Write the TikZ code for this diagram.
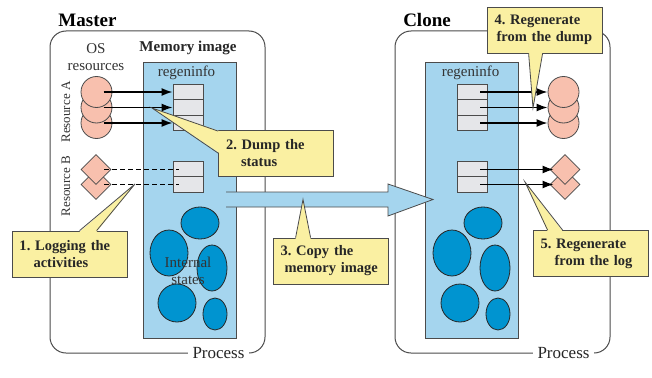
\documentclass[tikz,border=0pt]{standalone}
\usepackage{fontspec}
\setmainfont{Liberation Serif}
\usetikzlibrary{arrows.meta,shapes.geometric}
\definecolor{memblue}{RGB}{165,213,238}
\definecolor{blobblue}{RGB}{0,148,208}
\definecolor{salmon}{RGB}{248,192,174}
\definecolor{noteyellow}{RGB}{250,240,162}
\definecolor{cellgray}{RGB}{229,230,233}
\definecolor{edgegray}{RGB}{75,75,75}

\begin{document}
\begin{tikzpicture}[x=1pt,y=-1pt,>={Latex[length=11pt,width=8pt]},
  procbox/.style={draw=edgegray,line width=1pt,rounded corners=16pt,fill=white,minimum width=215pt,minimum height=322pt},
  proclabel/.style={fill=white,inner xsep=5pt,inner ysep=1pt,font=\fontsize{17}{19}\selectfont,text=black!85},
  headtxt/.style={font=\fontsize{19}{21}\selectfont\bfseries,inner sep=0},
  memcol/.style={draw=edgegray,fill=memblue,line width=0.8pt,minimum width=93pt,minimum height=276pt,inner sep=0},
  cell/.style={draw=edgegray,fill=cellgray,line width=0.8pt,minimum width=30pt,minimum height=15.5pt,inner sep=0},
  res/.style={circle,draw=edgegray,fill=salmon,line width=0.8pt,minimum size=31pt,inner sep=0},
  resb/.style={diamond,draw=edgegray,fill=salmon,line width=0.8pt,minimum size=30pt,inner sep=0},
  blob/.style={ellipse,draw=black!85,fill=blobblue,line width=0.8pt,inner sep=0},
  arr/.style={->,line width=1.6pt},
  dashline/.style={line width=0.9pt,dash pattern=on 5pt off 3pt},
  txt/.style={font=\fontsize{15}{17}\selectfont,text=black!80,inner sep=0},
  note/.style={draw=edgegray,fill=noteyellow,line width=0.8pt,minimum height=46pt,text width=100pt,inner xsep=7.5pt,align=left,font=\fontsize{14.5}{17}\selectfont\bfseries,text=black!85},
  notefill/.style={fill=noteyellow},
  noteline/.style={draw=edgegray,line width=0.8pt}]
\useasboundingbox (0,0) rectangle (652,377);

% process boxes
\node[procbox] (master) at (157.5,192) {};
\node[procbox] (clone) at (502.5,192) {};
\node[proclabel] (mproc) at (218.5,353) {Process};
\node[proclabel] (cproc) at (563.5,353) {Process};
\node[headtxt] (mtitle) at (87.5,20) {Master};
\node[headtxt] (ctitle) at (427,20) {Clone};

% memory images
\node[memcol] (mmem) at (189.5,200) {};
\node[memcol] (cmem) at (472,200) {};
\node[txt,font=\fontsize{15}{17}\selectfont\bfseries,text=black!85] (memlbl) at (188,48) {Memory image};
\node[txt,align=center] (osres) at (96,57) {OS\\resources};
\node[txt] (mregen) at (186.5,73) {regeninfo};
\node[txt] (cregen) at (470.5,73) {regeninfo};
\node[txt,font=\fontsize{13}{15}\selectfont,rotate=90] (resa) at (66,112) {Resource A};
\node[txt,font=\fontsize{13}{15}\selectfont,rotate=90] (resb) at (66,186) {Resource B};

% regeninfo cells
\foreach \n/\y in {1/92,2/107.5,3/123}{
  \node[cell] (mA\n) at (188,\y) {};
  \node[cell] (cA\n) at (472,\y) {};
}
\foreach \n/\y in {1/169.5,2/184.5}{
  \node[cell] (mB\n) at (188,\y) {};
  \node[cell] (cB\n) at (472,\y) {};
}

% internal states
\foreach \x/\y/\w/\h [count=\i] in {200/223/38/32,169/253/38/46,212/268/30/46,177/303/38/38,215/314/24/32}{
  \node[blob,minimum width=\w pt,minimum height=\h pt] (mb\i) at (\x,\y) {};
  \node[blob,minimum width=\w pt,minimum height=\h pt] (cb\i) at (\x+283,\y) {};
}
\node[txt,align=center,text=black!80] (istates) at (188,271) {Internal\\states};

% OS resources
\foreach \n/\y in {3/123,2/107.5,1/92}{
  \node[res] (mR\n) at (96.5,\y) {};
  \node[res] (cR\n) at (563.5,\y) {};
}
\foreach \n/\y in {2/184.5,1/169.5}{
  \node[resb] (mD\n) at (96,\y) {};
  \node[resb] (cD\n) at (565,\y) {};
}
\foreach \n in {1,2,3}{
  \draw[arr] ([xshift=7pt]mR\n.center) -- (mA\n.west);
  \draw[arr] ([xshift=8pt]cA\n.center) -- (cR\n.west);
}
\foreach \n in {1,2}{
  \draw[dashline] ([xshift=8pt]mD\n.center) -- ([xshift=6pt]mB\n.west);
  \draw[arr] ([xshift=8pt]cB\n.center) -- ([xshift=4pt]cD\n.west);
}

% copy arrow
\fill[memblue] (226,192) -- (388,192) -- (388,184) -- (433,199.5) -- (388,216) -- (388,207) -- (226,207) -- cycle;
\draw[edgegray,line width=0.8pt] (226,192) -- (388,192) -- (388,184) -- (433,199.5) -- (388,216) -- (388,207) -- (226,207);

% callouts
\node[note] (n1) at (69.5,254) {\mbox{1.~Logging the}\\\hspace*{14pt}\mbox{activities}};
\coordinate (t1) at (135,184);
\fill[notefill] ([xshift=68pt,yshift=-1.2pt]n1.north west) -- (t1) -- ([xshift=85pt,yshift=-1.2pt]n1.north west) -- cycle;
\draw[noteline] ([xshift=68pt]n1.north west) -- (t1) -- ([xshift=85pt]n1.north west);

\node[note] (n2) at (276,153.5) {\mbox{2.~Dump the}\\\hspace*{15pt}\mbox{status}};
\coordinate (t2) at (152,108);
\fill[notefill] ([xshift=1.2pt,yshift=-1pt]n2.north west) -- (t2) -- ([xshift=1.2pt,yshift=-23pt]n2.north west) -- cycle;
\draw[noteline] ([yshift=-1pt]n2.north west) -- (t2) -- ([yshift=-23pt]n2.north west);

\node[note] (n3) at (330.5,261) {\mbox{3.~Copy the}\\\hspace*{4pt}\mbox{memory image}};
\coordinate (t3) at (303,199.5);
\fill[notefill] ([xshift=23pt,yshift=-1.2pt]n3.north west) -- (t3) -- ([xshift=38pt,yshift=-1.2pt]n3.north west) -- cycle;
\draw[noteline] ([xshift=23pt]n3.north west) -- (t3) -- ([xshift=38pt]n3.north west);

\node[note] (n4) at (544.5,30) {\mbox{4.~Regenerate}\\\hspace*{2pt}\mbox{from the dump}};
\coordinate (t4) at (533,108);
\fill[notefill] ([xshift=42pt,yshift=1.2pt]n4.south west) -- (t4) -- ([xshift=56pt,yshift=1.2pt]n4.south west) -- cycle;
\draw[noteline] ([xshift=42pt]n4.south west) -- (t4) -- ([xshift=56pt]n4.south west);

\node[note] (n5) at (590.5,253.5) {\mbox{5.~Regenerate}\\\hspace*{14pt}\mbox{from the log}};
\coordinate (t5) at (525,182);
\fill[notefill] ([xshift=15pt,yshift=-1.2pt]n5.north west) -- (t5) -- ([xshift=30pt,yshift=-1.2pt]n5.north west) -- cycle;
\draw[noteline] ([xshift=15pt]n5.north west) -- (t5) -- ([xshift=30pt]n5.north west);
\end{tikzpicture}
\end{document}
